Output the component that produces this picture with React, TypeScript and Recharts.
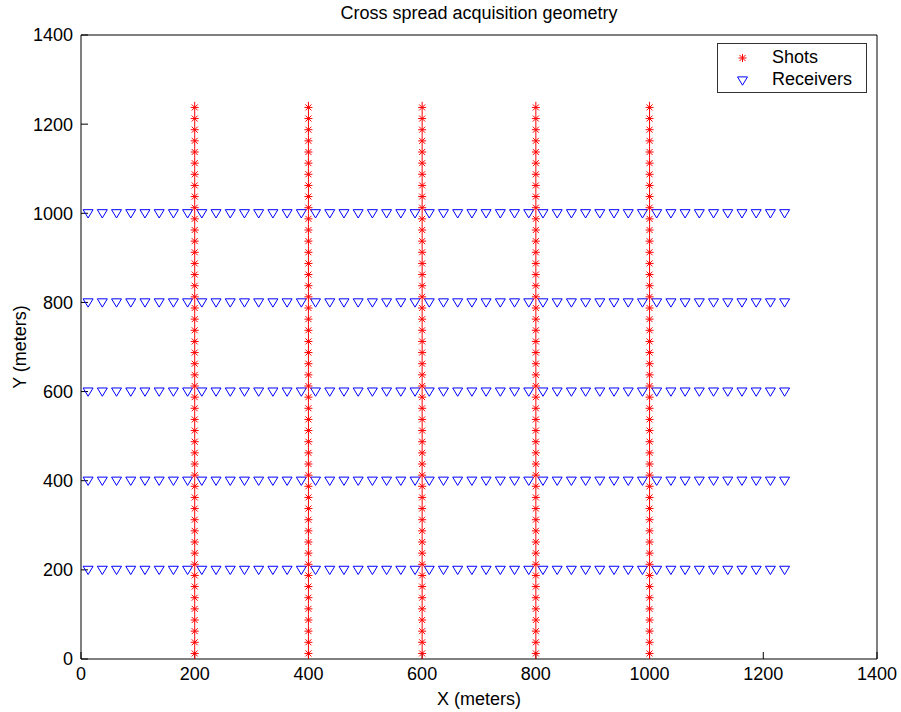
import { ScatterChart, Scatter, XAxis, YAxis, Legend } from 'recharts';

const shotLineX = [200, 400, 600, 800, 1000];
const receiverLineY = [200, 400, 600, 800, 1000];
const stationPositions = [
  12.5, 37.5, 62.5, 87.5, 112.5, 137.5, 162.5, 187.5, 212.5, 237.5,
  262.5, 287.5, 312.5, 337.5, 362.5, 387.5, 412.5, 437.5, 462.5, 487.5,
  512.5, 537.5, 562.5, 587.5, 612.5, 637.5, 662.5, 687.5, 712.5, 737.5,
  762.5, 787.5, 812.5, 837.5, 862.5, 887.5, 912.5, 937.5, 962.5, 987.5,
  1012.5, 1037.5, 1062.5, 1087.5, 1112.5, 1137.5, 1162.5, 1187.5, 1212.5, 1237.5,
];
const axisTicks = [0, 200, 400, 600, 800, 1000, 1200, 1400];

const shots = shotLineX.flatMap(x => stationPositions.map(y => ({ x, y })));
const receivers = receiverLineY.flatMap(y => stationPositions.map(x => ({ x, y })));

const FONT = '"Liberation Sans", Arial, Helvetica, sans-serif';
const RED = '#ff0000';
const BLUE = '#0000ff';

function StarMark({ cx, cy, tall = 5.6 }: any) {
  return (
    <g stroke={RED} strokeWidth={1} fill="none">
      <line x1={cx} y1={cy - tall} x2={cx} y2={cy + tall} />
      <line x1={cx - 4} y1={cy} x2={cx + 4} y2={cy} />
      <line x1={cx - 3} y1={cy - 3} x2={cx + 3} y2={cy + 3} />
      <line x1={cx - 3} y1={cy + 3} x2={cx + 3} y2={cy - 3} />
    </g>
  );
}

function TriangleMark({ cx, cy }: any) {
  return (
    <polygon
      points={`${cx - 5},${cy - 3.6} ${cx + 5},${cy - 3.6} ${cx},${cy + 4.7}`}
      fill="none"
      stroke={BLUE}
      strokeWidth={1}
    />
  );
}

function LegendBox() {
  return (
    <div
      style={{
        width: 150,
        height: 50,
        boxSizing: 'border-box',
        border: '1px solid #333',
        background: '#fff',
        fontFamily: FONT,
        fontSize: 18,
        position: 'relative',
      }}
    >
      <svg width={60} height={48} style={{ position: 'absolute', left: 0, top: 0 }}>
        <StarMark cx={24.5} cy={14} tall={4} />
        <TriangleMark cx={24.5} cy={36.5} />
      </svg>
      <div style={{ position: 'absolute', left: 54, top: 3, lineHeight: '20px' }}>Shots</div>
      <div style={{ position: 'absolute', left: 54, top: 25, lineHeight: '20px' }}>Receivers</div>
    </div>
  );
}

export default function App() {
  return (
    <div style={{ position: 'absolute', left: 0, top: 0, width: 901, height: 712, background: '#fff' }}>
      <div
        style={{
          position: 'absolute',
          left: 81,
          width: 796,
          top: 2,
          textAlign: 'center',
          fontFamily: FONT,
          fontSize: 18,
          lineHeight: '22px',
          color: '#000',
        }}
      >
        Cross spread acquisition geometry
      </div>
      <ScatterChart
        width={901}
        height={712}
        margin={{ top: 34, right: 23, bottom: 0, left: 0 }}
        style={{ fontFamily: FONT }}
      >
        <XAxis
          xAxisId="bottom"
          type="number"
          dataKey="x"
          domain={[0, 1400]}
          ticks={axisTicks}
          height={53}
          stroke="#000"
          tickSize={-7}
          tickMargin={15}
          tick={{ fill: '#000', fontSize: 18 }}
          allowDataOverflow
          label={{ value: 'X (meters)', position: 'insideBottom', offset: 7, fill: '#000', fontSize: 18 }}
        />
        <XAxis
          xAxisId="top"
          orientation="top"
          type="number"
          dataKey="x"
          domain={[0, 1400]}
          ticks={axisTicks}
          height={1}
          stroke="#000"
          tickSize={-7}
          tick={false}
          allowDataOverflow
        />
        <YAxis
          yAxisId="left"
          type="number"
          dataKey="y"
          domain={[0, 1400]}
          ticks={axisTicks}
          width={81}
          stroke="#000"
          tickSize={-7}
          tickMargin={15}
          tick={{ fill: '#000', fontSize: 18 }}
          allowDataOverflow
          label={{ value: 'Y (meters)', angle: -90, position: 'insideLeft', offset: 20, fill: '#000', fontSize: 18, style: { textAnchor: 'middle' } }}
        />
        <YAxis
          yAxisId="right"
          orientation="right"
          type="number"
          dataKey="y"
          domain={[0, 1400]}
          ticks={axisTicks}
          width={1}
          stroke="#000"
          tickSize={-7}
          tick={false}
          allowDataOverflow
        />
        <Legend
          layout="horizontal"
          verticalAlign="middle"
          align="center"
          content={() => <LegendBox />}
          wrapperStyle={{ position: 'absolute', left: 717, top: 43, width: 150, height: 50 }}
        />
        <Scatter
          name="frame"
          data={[]}
          xAxisId="top"
          yAxisId="right"
          legendType="none"
          isAnimationActive={false}
        />
        <Scatter
          name="Receivers"
          data={receivers}
          xAxisId="bottom"
          yAxisId="left"
          shape={(p: any) => <TriangleMark cx={p.cx} cy={p.cy} />}
          isAnimationActive={false}
        />
        <Scatter
          name="Shots"
          data={shots}
          xAxisId="bottom"
          yAxisId="left"
          shape={(p: any) => <StarMark cx={p.cx} cy={p.cy} />}
          isAnimationActive={false}
        />
      </ScatterChart>
    </div>
  );
}
